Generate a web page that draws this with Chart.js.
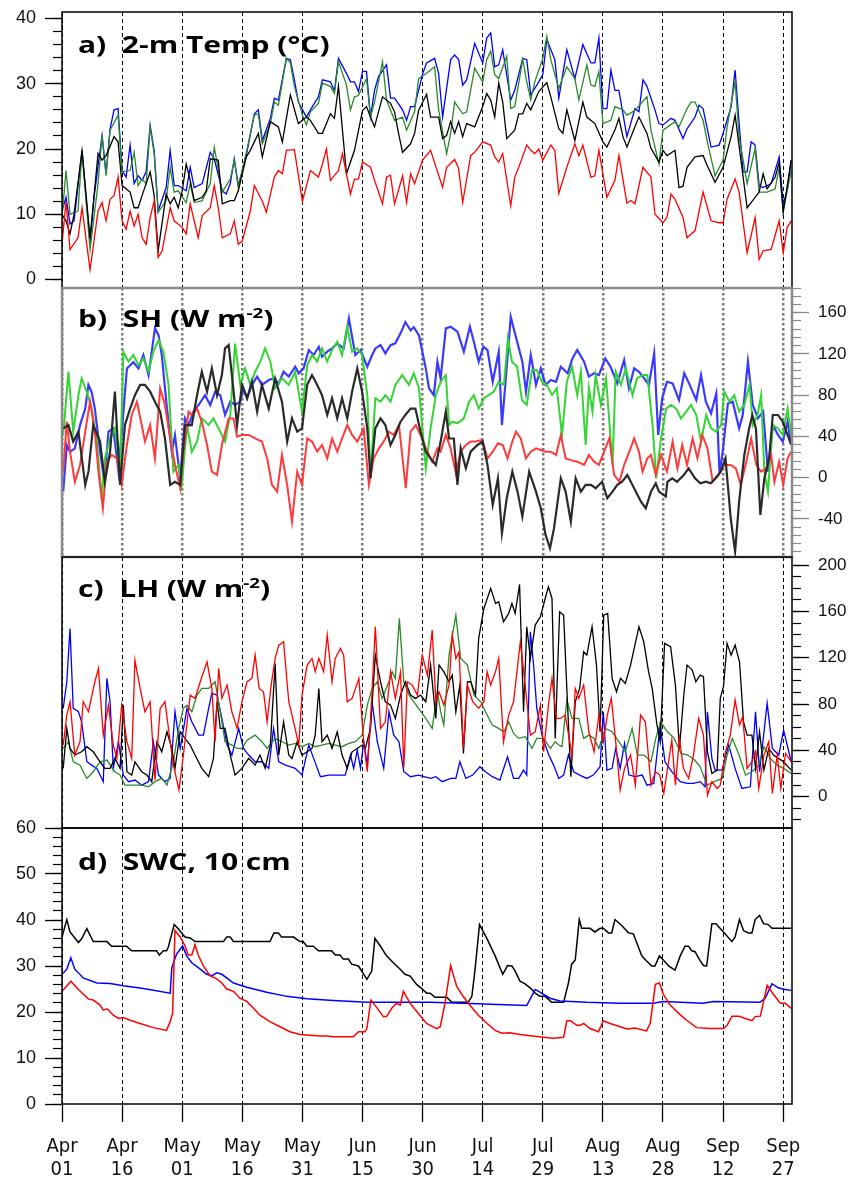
<!DOCTYPE html>
<html><head><meta charset="utf-8">
<script src="https://cdn.jsdelivr.net/npm/chart.js"></script>
<style>
html,body{margin:0;padding:0;background:#fff;}
#wrap{position:relative;width:860px;height:1178px;overflow:hidden;background:#fff;}
canvas{position:absolute;left:0;}
.ttl{position:absolute;left:78px;font-family:"Open Sans","Liberation Sans",sans-serif;font-weight:700;font-size:24px;line-height:24px;white-space:pre;transform:scaleX(1.25);transform-origin:0 0;color:#000;z-index:5;}
.ttl sup{font-size:15px;vertical-align:9px;line-height:0;}
</style></head>
<body><div id="wrap">
<canvas id="cA" width="860" height="300" style="top:0px"></canvas>
<canvas id="cB" width="860" height="290" style="top:280px"></canvas>
<canvas id="cC" width="860" height="290" style="top:549px"></canvas>
<canvas id="cD" width="860" height="368" style="top:810px"></canvas>
<div class="ttl" style="top:32px">a)  2-m Temp (°C)</div>
<div class="ttl" style="top:306px">b)  SH (W m<sup>-2</sup>)</div>
<div class="ttl" style="top:576px">c)  LH (W m<sup>-2</sup>)</div>
<div class="ttl" style="top:849px">d)  SWC, 10 cm</div>
</div>
<script>
// ---- x axis: day index since Apr 01, ticks every 15 days ----
const tickDays = [0,15,30,45,60,75,90,105,120,135,150,165,180];
const tickLabels = [['Apr','01'],['Apr','16'],['May','01'],['May','16'],['May','31'],['Jun','15'],['Jun','30'],['Jul','14'],['Jul','29'],['Aug','13'],['Aug','28'],['Sep','12'],['Sep','27']];

// ---- a) 2-m temperature (°C), [day, value] ----
const tempRed = [[0,5.4],[1,12],[2,4.6],[4,6.4],[5,11],[7,1.5],[9,10.5],[10,11.8],[11,9],[12,12.3],[13,12.9],[14,15.7],[15,9],[16,7.7],[17,10.5],[18,8.2],[19,10],[20,6.4],[21,5.4],[22,9.5],[23,12],[24,3.4],[25,4.4],[27,11],[28,9],[30,8],[31,7],[32,11.6],[34,6.4],[35,9.8],[37,11],[38,14.4],[39,11],[40,6.4],[42,7],[43,9],[44,5.4],[45,5.9],[47,10.5],[48,14.4],[50,12],[51,10.3],[53,15.7],[54,16.7],[55,16.2],[56,19.8],[58,19.9],[60,12],[62,16.7],[64,15.7],[65,17.7],[66,20],[67,15.2],[69,16.7],[70,19.3],[72,13.1],[73,15.4],[74,15.4],[75,18],[77,17.2],[78,15.2],[80,11.6],[81,15.7],[82,16],[83,11.6],[85,15.9],[86,11.8],[87,16.2],[88,14.7],[90,18.3],[92,19.8],[95,14.1],[96,17.2],[98,18.4],[99,17],[100,11.8],[102,19],[103,19.5],[105,21.1],[107,20.6],[108,18.8],[109,18],[110,19.3],[112,11.3],[113,15.7],[114,17.2],[116,20.6],[117,19.8],[118,19.3],[119,20],[120,18.3],[122,20.6],[123,19.8],[124,13.2],[126,17.2],[128,20.8],[129,19],[130,20.6],[132,15.7],[133,15.9],[134,19.8],[136,12.6],[138,15.2],[139,19],[141,11.7],[142,12.1],[143,11.6],[145,17.2],[147,15.7],[148,10],[150,8.7],[151,9.5],[152,13.1],[153,12.3],[155,9.5],[156,6.4],[158,7.5],[160,13.4],[162,9],[164,8.7],[165,8.7],[166,12.3],[168,15.4],[169,13.4],[171,4.1],[173,9.5],[174,3.1],[175,4.4],[177,4.6],[179,9],[180,4.1],[181,8],[182,9]];
const tempBlack = [[0,10],[1,9],[2,7],[3,10],[5,19.7],[7,6.4],[9,19.3],[10,18.3],[11,19],[13,21.9],[14,21.1],[15,14.4],[17,13.4],[18,11],[19,11],[20,12.9],[22,16.5],[23,12.9],[24,4.4],[26,13.1],[27,11.6],[28,12.6],[29,11],[30,13.6],[31,17.7],[32,15.2],[33,12.1],[35,12.6],[36,13.6],[37,18.5],[39,18.3],[40,11.6],[42,12.1],[43,12.1],[44,13.6],[46,18.8],[47,19.8],[49,22.4],[50,18.8],[52,24.2],[54,23.4],[55,21.1],[57,28.3],[59,23.9],[61,24.9],[62,24.4],[64,22.4],[65,22.4],[67,25.4],[68,24.7],[69,29.6],[71,16.2],[73,19.8],[75,25.9],[76,26.5],[77,24.9],[78,23.4],[80,28],[82,27],[83,25.7],[84,22.4],[85,19.5],[87,20.8],[88,22.4],[89,25.9],[91,28.4],[92,24.9],[94,24.9],[95,21.6],[96,22.1],[97,24.2],[98,22.4],[99,24.2],[100,21.9],[101,23.9],[103,23.4],[105,26.5],[106,28.5],[107,27.5],[108,24.9],[109,30.1],[110,27.2],[111,21.6],[113,22.9],[114,25.4],[115,25.4],[116,27],[117,26],[119,28.8],[121,30.2],[122,28],[124,23.1],[125,22.4],[126,26],[128,21.3],[130,27.2],[131,24.9],[133,23.9],[135,21.1],[136,20.3],[138,22.9],[139,24.7],[140,21.9],[141,20.3],[143,23.4],[144,24.9],[146,22.4],[147,20.1],[149,18],[150,19.8],[151,19],[153,19.8],[154,14.1],[155,14.3],[156,17.2],[158,18.8],[160,19],[161,17.5],[163,14.9],[165,17.2],[167,21.9],[168,25.2],[171,11],[172,11.8],[174,13.4],[175,16.2],[176,13.9],[178,15.7],[179,18],[180,10.3],[182,18.3]];
const tempGreen = [[0,9.5],[1,16.7],[2,10],[4,10.5],[5,19.8],[7,4.6],[9,14.7],[10,22.1],[11,15.9],[12,22.9],[14,25.2],[15,16.5],[17,16.7],[18,19.5],[19,14.4],[20,15.4],[21,14.7],[22,23.4],[23,19.3],[24,10.3],[26,12.1],[27,17.2],[28,13.4],[29,13.6],[31,11.8],[32,14.7],[33,11.8],[35,12.1],[37,14.7],[38,20.3],[40,13.4],[42,15.4],[43,18.3],[44,14.1],[46,19.5],[48,25.2],[49,25.4],[50,20.8],[52,23.9],[53,27.2],[54,26.7],[56,33.9],[57,33.2],[58,29.6],[60,25.2],[61,23.7],[62,25.7],[64,27],[65,30.1],[67,29.6],[68,28.5],[69,33.4],[71,29.8],[72,26],[73,28],[74,28.2],[76,30.8],[77,24.9],[78,27.2],[80,33.4],[81,27.5],[83,24.4],[85,24.9],[86,22.9],[88,25.7],[89,30.8],[91,31.6],[92,32.1],[93,32.6],[94,26],[96,19.3],[97,22.4],[98,27.2],[100,25.4],[101,25.7],[103,32.4],[105,30.3],[106,33.7],[107,35],[108,31.4],[109,30.8],[111,34.2],[112,26.2],[113,26.5],[115,33.7],[116,30.3],[117,27.5],[118,30.3],[120,33.9],[121,37.3],[122,33.7],[124,29.3],[126,32.6],[128,30.8],[129,27.5],[131,32.9],[132,29.8],[133,29.6],[134,31.9],[135,23.9],[137,24.4],[138,26.5],[140,26],[141,25.2],[143,25.9],[146,28],[147,22.9],[149,17.7],[150,22.9],[153,24.2],[154,23.4],[156,26.2],[157,27.2],[158,27.2],[160,24.4],[161,21.3],[163,15.9],[165,18.3],[166,23.4],[168,30.3],[169,21.9],[171,14.7],[173,20.1],[174,13.4],[176,13.4],[178,13.9],[179,17.2],[180,10.5],[182,16.7]];
const tempBlue = [[0,10.5],[1,12.6],[2,8.5],[3,9],[5,19.8],[7,5.4],[8,12.6],[10,22.1],[11,16.2],[12,23.1],[13,26],[14,26.2],[15,16.7],[16,15.7],[17,20.6],[18,14.7],[19,15.9],[20,15.2],[21,16.5],[22,23.6],[23,19.8],[24,10.5],[26,14.1],[27,19.8],[28,14.4],[29,14.4],[31,13.6],[32,17.2],[33,14.1],[35,14.7],[37,19.5],[38,18.5],[40,13.6],[41,13.1],[42,14.7],[43,18.5],[44,14.4],[46,19],[48,25.4],[49,26],[50,21.3],[52,24.7],[53,27.8],[54,27.5],[56,33.9],[57,33.7],[58,30.6],[59,27.2],[61,24.9],[62,26],[64,28],[65,30.6],[67,30.3],[68,28.9],[69,33.9],[71,31.6],[72,30.3],[73,30.3],[74,28.8],[75,31.9],[76,31.9],[77,24.9],[78,29],[79,31.1],[81,32.9],[82,27.8],[83,27.8],[85,26],[86,24.4],[87,26.5],[88,26.5],[90,31.5],[91,33.2],[93,33.9],[94,31.6],[95,24.9],[97,33.7],[98,34.4],[99,33.7],[100,29.8],[101,30.6],[103,36.2],[105,33.2],[106,37],[107,37.8],[108,32.6],[109,32.9],[110,35.2],[112,27.5],[113,29],[115,33.9],[116,33.7],[117,28.3],[119,30.3],[120,31.4],[121,36.8],[123,33.7],[124,27.8],[126,35.2],[128,30.8],[130,36],[132,33.2],[133,33.2],[134,37],[135,26.2],[136,26.2],[137,32.1],[138,29],[139,29],[141,21.9],[143,26.2],[144,25.7],[145,30.6],[146,29.6],[148,26],[149,23.9],[150,23.7],[152,24.7],[153,24.4],[155,21.6],[156,23.1],[158,24.9],[159,26.7],[160,26.2],[162,20.3],[164,20.6],[165,22.4],[167,26.5],[168,32.1],[169,23.9],[170,16.5],[171,16.5],[172,21.1],[173,20.6],[174,14.4],[175,14.1],[177,14.7],[179,18.8],[180,11.6],[181,13.6],[182,18.3]];

// ---- b) sensible heat (W m-2) ----
const shBlue = [[0.3,-13.6],[1.2,31.7],[2,25],[3.2,28.4],[4.5,51],[5.8,67],[6.6,90],[7.4,83],[8.2,67],[9.5,25],[10.6,-4],[11.6,44.6],[12.8,47.8],[14.1,5.8],[14.9,43],[16.2,106],[17.8,112],[19.1,106],[20.3,119],[21.6,99.5],[23.2,145],[24.1,138],[24.9,119],[26.2,67],[27.4,25],[28.2,41],[29.5,-0.6],[30.7,57.5],[31.6,51],[32.8,64],[34.1,70.5],[35.7,80],[37,70.5],[38.2,83],[39.5,80],[40.7,60.8],[42,73.7],[43.2,70.5],[44.5,73.7],[45.3,86.6],[46.2,77],[47.4,90],[48.7,98],[49.9,90],[51.6,94.7],[52.8,96.3],[54.1,91.5],[55.3,102.8],[56.6,98],[58.2,107.6],[59.1,101.2],[60.3,106],[61.6,123.8],[62.8,119],[64.1,127],[64.9,117.3],[66.2,122.2],[67.4,125.4],[68.7,130.3],[70.3,125.4],[71.6,154.5],[73.2,119],[74.5,123.8],[76.2,107.6],[77.4,119],[78.2,125.4],[79.5,128.6],[80.7,120.6],[82,128.6],[83.2,130.3],[84.5,140],[85.7,151],[87,143],[87.8,146],[89.1,138],[90.8,106],[91.6,86.6],[92.8,80],[93.7,112.5],[94.5,96.3],[95.8,144.8],[97,146.4],[98.7,141.6],[100.3,122.2],[101.8,146.4],[102.8,131.9],[104,112.5],[105.2,127],[106.2,123.8],[107.5,93],[109,122],[109.8,51],[110.7,93],[112,156],[113.6,131.9],[114.9,112.5],[115.8,83.4],[117,119],[118.3,90],[119.5,106],[120.7,90],[122,94.7],[123.3,93],[124.5,107.6],[126.2,101.2],[127.4,115.7],[128.6,123.8],[130.3,112.5],[131.5,98],[132.8,101.2],[134,99.5],[135.6,115.7],[136.9,107.6],[138.6,91.5],[140.3,114],[141.5,86.6],[142.8,106],[144,102.8],[145.3,96.3],[146.5,90],[147.8,120.6],[148.8,41.4],[149.8,77],[151,93],[152.4,91.5],[154,75.3],[155.3,101.2],[156.5,91.5],[158.3,75.3],[159.5,99.5],[160.7,73.7],[162,62.4],[163.3,81.8],[164.1,4.2],[164.9,25.2],[166.2,72],[167.4,73.7],[169,47.8],[169.9,60.8],[171.2,112.5],[172.4,70.5],[173.7,57.5],[175,64],[176.2,5.8],[177.4,51],[178.7,41.4],[179.9,34.9],[181.1,54.3],[182,31.7]];
const shGreen = [[0.3,41],[1.6,102.8],[2.8,44.6],[4.1,80],[4.9,96.3],[6.2,83],[7.4,67],[8.7,35],[9.9,-20],[10.7,18.7],[12,38],[13.2,47.8],[14.5,5.8],[15.3,122.2],[16.6,112.5],[17.8,119],[19.1,109],[20.3,115.7],[21.6,102.8],[22.8,122.2],[24.1,133.5],[25.3,122.2],[26.6,90],[27.8,5.8],[29.1,12.3],[29.9,-7],[31.2,51],[32.4,25],[33.7,35],[34.9,57.5],[36.6,51],[37.8,57.5],[39.5,44.6],[40.7,35],[42,60.8],[43.2,130],[44.5,90],[45.7,106],[47,90],[48.2,102.8],[49.5,112.5],[50.7,125.4],[52,112.5],[53.2,86.6],[54.9,96.3],[56.6,90],[58.2,102.8],[59.9,64],[61.2,109],[62.4,119],[63.7,112.5],[64.9,125.4],[66.2,112.5],[67.4,123.8],[68.7,131.9],[69.9,119],[71.2,146.4],[72.4,122.2],[73.7,125.4],[74.9,119],[76.2,80],[77,-0.6],[78.2,77],[79.5,73.7],[80.7,80],[82,73.7],[83.2,90],[84.9,99.5],[86.6,90],[87.8,101.2],[89.1,86.6],[90.8,9],[92,47.8],[93.3,80],[94.5,93],[95.8,99.5],[96.6,51],[97.4,54.3],[98.7,52.7],[100.3,57.5],[101.6,73.7],[102.8,80],[104,67],[105.3,77],[106.5,80],[107.8,83.4],[109,93],[110.3,90],[111.3,135],[112.3,112.5],[113.6,107.6],[114.8,75.3],[116,70.5],[117.3,104.4],[118.5,104.4],[119.8,93],[121,90],[122.3,80],[123.5,86.6],[124.8,41.4],[126,93],[127.3,107.6],[128.6,80],[129.5,102.8],[130.7,31.7],[131.5,86.6],[132.4,64],[133.2,99.5],[134.5,70.5],[135.8,96.3],[137.4,12.3],[138.2,102.8],[139.5,90],[140.7,106],[142.4,80],[143.5,96.3],[144.9,99.5],[146.1,99.5],[147.4,51],[148.3,-0.6],[149.5,38],[150.8,67],[152,70.5],[153.3,67],[154.5,57.5],[155.8,64],[157,70.5],[158.3,60.8],[159.5,35],[160.8,60.8],[162,47.8],[163.3,44.6],[164.5,51],[165.3,83.4],[166.6,73.7],[167.8,80],[169,64],[170.3,70.5],[171.6,90],[172.4,51],[173.6,60.8],[174.5,80],[175.3,5.8],[176.2,-13.6],[177.4,51],[178.7,47.8],[179.9,41.4],[181.1,67],[182,41.4]];
const shBlack = [[0.3,47.8],[1.6,51],[2.8,35],[4.1,44.6],[5.8,-7],[6.6,5.8],[7.8,51],[9.5,35],[10.7,-4],[12,25],[13.2,83.4],[14.5,-7],[15.7,51],[17,67],[18.2,80],[19.5,90],[20.7,90],[22,83.4],[23.2,73.7],[24.5,64],[25.7,38],[27,-7],[28.2,-4],[29.5,-7],[30.7,51],[32.4,51],[33.7,80],[34.9,102.8],[36.2,83.4],[37.4,106],[38.7,80],[39.9,99.5],[40.7,125.4],[41.6,128.6],[42.4,99.5],[43.7,51],[44.9,90],[46.2,77],[47.4,93],[48.7,64],[49.9,90],[51.6,67],[53.2,96.3],[54.9,73.7],[56.2,35],[57.4,57.5],[58.7,44.6],[59.9,47.8],[61.2,90],[62.4,99.5],[63.7,90],[64.9,80],[66.2,60.8],[67.4,77],[68.7,57.5],[69.9,77],[71.2,57.5],[72.4,83.4],[73.7,106],[74.9,83.4],[76.2,47.8],[77,-0.6],[78.2,47.8],[79.5,57.5],[80.7,51],[82,31.7],[83.2,41.4],[84.5,54.3],[85.7,60.8],[87,67],[88.2,67],[89.5,44.6],[90.8,25.2],[92,18.7],[93.3,12.3],[94.5,35],[95.8,64],[96.6,38],[97.8,38],[98.7,-7],[99.5,28.4],[100.8,9],[102,25.2],[103.7,31.7],[105,35],[106.2,12.3],[107.5,-26.5],[108.8,-0.6],[109.8,-54],[111,-20],[112.4,5.8],[113.7,-13.6],[114.9,-37.8],[116.6,5.8],[118.3,-13.6],[119.5,-29.7],[120.7,-55.6],[121.8,-68.5],[122.8,-49],[124.5,-0.6],[125.7,-13.6],[127,-42.7],[128.2,-0.6],[129.5,-13.6],[130.7,-7],[132,-7],[133.2,-10.3],[134.8,-4],[136.1,-20],[137.4,-13.6],[138.6,-7],[139.8,-4],[141.1,2.6],[142.8,-10.3],[144.5,-23.3],[145.7,-29.7],[147,-13.6],[148.2,-5.5],[149,-13.6],[150.7,-18.4],[151.1,-4],[152.3,-0.6],[153.5,-4],[155.2,2.6],[156.4,9],[158,-0.6],[159.3,-5.5],[160.7,-4],[161.9,-5.5],[163.1,-0.6],[164.4,5.8],[165.6,18.7],[166.9,-39.4],[168,-71.8],[169,-23.3],[170.3,22],[171.5,47.8],[172.3,60.8],[173.2,47.8],[174.3,-36.2],[175.3,-0.6],[176.5,18.7],[177.4,60.8],[178.7,60.8],[179.9,54.3],[181.1,41.4],[182,31.7]];
const shRed = [[0.3,5.8],[1.2,54.3],[2,25.2],[3.2,-4],[4.5,12.3],[5.8,44.6],[7,73.7],[8.2,44.6],[9.1,5.8],[10.2,-29.7],[11.2,15.5],[12.4,22],[13.7,18.7],[14.9,-7],[16.2,31.7],[17.4,60.8],[18.7,73.7],[19.9,51],[20.7,35],[22,51],[23.2,18.7],[24.5,86.6],[25.7,70.5],[27,38],[28.2,12.3],[29.5,-10.3],[30.3,25.2],[31.6,64],[32.4,60.8],[33.7,67],[34.9,54.3],[36.2,31.7],[37.4,5.8],[38.7,2.6],[39.9,31.7],[41.6,57.5],[42.8,57.5],[43.7,39.8],[44.9,41.4],[46.6,41.4],[48.2,38],[49.9,35],[51.2,18.7],[52.4,-7],[53.7,-13.6],[54.9,22],[56.2,-7],[57.4,-42.7],[58.7,5.8],[59.9,-7],[61.2,38],[62.4,35],[63.7,25.2],[64.9,31.7],[66.2,18.7],[67.4,38],[68.7,25.2],[69.9,38],[71.2,51],[72.4,41.4],[73.7,35],[75.3,47.8],[76.6,-7],[77.8,18.7],[79.1,28.4],[80.3,35],[81.6,44.6],[82.8,41.4],[84.1,51],[85.8,-10.3],[87,44.6],[88.3,51],[89.5,41.4],[90.8,28.4],[92.4,15.5],[93.7,28.4],[94.5,25.2],[95.8,41.4],[97,28.4],[98.3,4.2],[99.5,25.2],[100.8,31.7],[102,35],[103.3,35],[104.9,36.5],[106.2,18.7],[107.5,25.2],[108.8,33.3],[110,31.7],[111.2,18.7],[112.4,35],[113.3,44.6],[114.5,38],[115.8,18.7],[117,25.2],[118.3,28.4],[119.5,26.8],[120.7,25.2],[122,25.2],[123.3,22],[124.5,41.4],[125.7,18.7],[127,17],[128.6,15.5],[130.3,12.3],[131.5,22],[132.8,15.5],[134,12.3],[135.3,25.2],[136.6,38],[137.8,2.6],[139.1,-4],[140.3,12.3],[141.6,25.2],[142.8,38],[144,25.2],[144.9,5.8],[146.1,18.7],[147,22],[148.2,2.6],[149.5,22],[151,5.8],[152.4,35],[153.6,9],[154.8,31.7],[156,12.3],[157.4,38],[158.6,18.7],[159.8,41.4],[161.1,28.4],[162.4,-4],[163.9,2.6],[165.3,12.3],[166.9,12.3],[168.2,9],[169.4,-7],[170.8,15.5],[172,38],[173.3,12.3],[174.5,5.8],[175.8,9],[177,22],[177.8,-4],[179,15.5],[180,-7],[181.1,18.7],[182,25.2]];

// ---- c) latent heat (W m-2) ----
const lhRed = [[0.3,44.6],[1.2,70.5],[2,82],[3.2,36],[4.5,47.5],[5.3,82],[6.6,73.4],[8.2,99.3],[9.1,110.8],[10.3,53.2],[11.6,79.1],[12.8,44.6],[13.7,33.1],[14.9,79.1],[16.2,47.5],[17.4,33.1],[18.2,118],[19.5,93.5],[20.7,73.4],[22,82],[23.2,14.4],[24.5,76.3],[25.7,82],[27,47.5],[27.8,27.3],[29.2,5.8],[30.3,36],[32,87.8],[33.2,84.9],[34.5,99.3],[36.2,116.5],[37.4,93.5],[38.2,47.5],[39.1,110.8],[39.9,84.9],[41.2,96.4],[42.4,73.4],[43.7,59],[44.9,82],[46.2,99.3],[47.4,102.2],[48.2,122.3],[49.2,93.5],[50.3,90.6],[51.2,64.7],[52.2,96.4],[53.2,119.4],[54.1,130.9],[55.3,133.8],[56.6,82],[57.8,64.7],[59.1,44.6],[59.9,87.8],[61.2,113.7],[62.4,119.4],[63.2,108],[64.1,119.4],[65.3,108],[66.2,139.6],[67.4,99.3],[68.2,119.4],[69.5,128],[70.3,122.3],[71.2,82],[72.4,84.9],[74.1,102.2],[75.3,47.5],[76.2,21.6],[77,64.7],[78.2,146.8],[79.5,59],[80.7,64.7],[82,108],[83.2,84.9],[84.5,108],[85.3,24.5],[86.2,99.3],[87.4,96.4],[88.7,87.8],[89.9,122.3],[91.2,105],[92.4,143.9],[93.3,82],[94.1,90.6],[95.3,79.1],[96.6,96.4],[97.4,139.6],[98.3,119.4],[99.1,125.2],[100.2,41.7],[101.2,96.4],[102.5,82],[104,76.3],[105.3,82],[106.1,108],[107,96.4],[108.2,108],[109,119.4],[110.2,47.5],[111.5,70.5],[112.7,82],[114.4,133.8],[115.6,96.4],[116.9,53.2],[118.1,56.1],[119.4,79.1],[120.2,38.8],[121.5,82],[122.3,102.2],[123.4,67.6],[124.4,67.6],[125.6,70.5],[127.3,36],[128.1,93.5],[129,84.9],[130.2,96.4],[131.5,56.1],[132.8,38.8],[134,70.5],[135.1,47.5],[136.1,70.5],[137.1,84.9],[138.2,47.5],[139.3,5.8],[140.4,24.5],[141.9,36],[143.1,10],[144.4,70.5],[145.6,64.7],[147,10],[148.1,21.6],[149.2,18.7],[150.2,2.9],[151.4,30.2],[152.2,48.9],[153.1,10],[154.1,50.4],[155.1,24.5],[156.4,15.8],[157.6,36],[158.9,67.6],[160.1,53.2],[161.1,1.4],[162.2,13],[163.5,7.2],[164.3,10],[165.6,38.8],[166.8,53.2],[168,83.5],[169.1,61.9],[169.9,69],[171,24.5],[172.2,30.2],[173.1,38.8],[173.9,7.2],[175.2,36],[176.4,47.5],[177.3,2.9],[178.5,36],[179.4,7.2],[180.6,37.4],[182,30.2]];
const lhBlack = [[0.3,24.5],[1.2,59],[2,41.7],[3.2,36],[4.9,38.8],[6.2,43.2],[7.8,38.8],[9.5,30.2],[10.7,24.5],[12,24.5],[13.2,33.1],[14.5,24.5],[15.3,79.1],[16.2,21.6],[17.4,18.7],[18.2,30.2],[19.9,21.6],[21.2,18.7],[22.4,13],[23.7,47.5],[24.9,38.8],[26.2,56.1],[27.4,41.7],[28.2,24.5],[29.5,56.1],[30.7,50.4],[32,44.6],[33.2,36],[34.9,24.5],[36.6,17.3],[37.8,33.1],[38.7,82],[39.5,59],[40.7,59],[42,36],[43.2,18.7],[44.9,24.5],[46.6,33.1],[48.2,27.3],[49.4,36],[50.7,24.5],[52,44.6],[53.2,115.1],[54.1,36],[55.3,64.7],[56.6,36],[57.4,33.1],[58.7,47.5],[59.9,36],[61.2,38.8],[62.4,41.7],[63.2,53.2],[64.1,93.5],[64.9,47.5],[66.2,53.2],[67.4,41.7],[68.7,56.1],[69.9,36],[71.2,24.5],[72.4,38.8],[73.7,41.7],[74.9,44.6],[75.7,41.7],[77,59],[78.2,122.3],[79.5,99.3],[80.7,82],[82,79.1],[83.2,67.6],[84.5,87.8],[85.7,99.3],[87,87.8],[88.2,84.9],[89.5,87.8],[90.8,82],[92,113.7],[93.3,67.6],[94.1,113.7],[95.3,108],[96.6,99.3],[97.4,105],[98.3,73.4],[99.3,96.4],[100.2,37.4],[101.2,99.3],[102,99.3],[103.2,87.8],[104,136.7],[105.3,162.6],[107,179.9],[108.2,166.9],[109,168.3],[110.2,151.1],[111.5,158.3],[112.3,166.9],[113.1,158.3],[114.2,183.3],[115.2,73.4],[116,146.8],[116.9,119.4],[118.1,148.2],[119.4,155.4],[120.6,171.2],[121.4,181.3],[122.3,171.2],[123.1,50.4],[124.2,159.7],[125.2,156.8],[126,93.5],[127,17.3],[128.1,82],[129.2,93.5],[130.2,125.2],[131,122.3],[132.3,146.8],[133.4,113.7],[134.3,56.1],[135.2,156.8],[136.2,158.3],[137.3,102.2],[138.4,90.6],[139.4,102.2],[140.6,97.8],[141.9,113.7],[144,146.8],[145.2,133.8],[146.4,108],[147.3,93.5],[148.5,61.9],[149.3,47.5],[150.4,132.4],[151.9,129.5],[153.1,96.4],[154.1,41.7],[155.2,87.8],[156,113.7],[157.3,109.4],[158.2,99.3],[159.3,105],[160.1,103.6],[161.1,38.8],[162.2,20.1],[163.5,23],[164.3,84.9],[165.1,95],[166,132.4],[167,122.3],[168,130.9],[169.1,116.5],[170.1,64.7],[171,53.2],[172.2,53.2],[173.1,24.5],[174.1,56.1],[175.2,23],[176.4,41.7],[177.6,36],[178.8,33.1],[180.1,30.2],[182,23]];
const lhGreen = [[0.3,41.7],[1.6,47.5],[2.8,30.2],[4.5,27.3],[6.2,15.8],[7.8,21.6],[9.5,30.2],[11.2,31.7],[13.2,21.6],[14.5,18.7],[15.7,10],[17.4,10],[19.9,10],[21.6,8.6],[23.2,13],[24.9,15.8],[26.2,10],[27.8,30.2],[29.1,59],[30.3,76.3],[31.2,79.1],[32.4,73.4],[33.7,87.8],[34.9,93.5],[36.6,93.5],[38.2,99.3],[39.5,73.4],[40.7,47.5],[42.4,44.6],[43.7,41.7],[44.9,41.7],[46.2,48.9],[48.2,53.2],[49.9,47.5],[51.2,41.7],[53.2,50.4],[54.9,47.5],[56.6,44.6],[58.2,46],[59.9,43.2],[61.6,46],[63.2,43.2],[64.9,44.6],[66.6,46],[68.2,44.6],[69.9,43.2],[71.6,46],[73.2,47.5],[74.9,53.2],[76.2,79.1],[77.4,93.5],[78.7,99.3],[79.9,84.9],[81.6,99.3],[82.4,108],[83.2,102.2],[84.2,154],[85.3,99.3],[86.6,87.8],[87.8,82],[89,76.3],[90.8,67.6],[92.4,59],[93.7,90.6],[94.5,73.4],[95.3,61.9],[96.6,122.3],[98.3,156.8],[99.5,119.4],[101.2,113.7],[102.8,87.8],[104.5,82],[105.7,73.4],[107.4,61.9],[109,59],[110.3,56.1],[111.5,64.7],[112.7,54.7],[114,50.4],[115.6,51.8],[117.3,41.7],[118.5,50.4],[120.2,50.4],[121.9,41.7],[123.1,47.5],[124,44.6],[124.8,43.2],[126,83.5],[127.3,67.6],[129,67.6],[130.2,50.4],[131.5,53.2],[132.8,50.4],[134,41.7],[135.6,59],[137.3,56.1],[139,47.5],[140.6,38.8],[142.3,59],[143.6,36],[145.3,36],[147,30.2],[148.2,50.4],[149.4,64.7],[151.1,56.1],[152.8,50.4],[154.5,37.4],[156.2,36],[157.9,31.7],[159.3,25.9],[161,10],[162.8,13],[164.8,15.8],[166,36],[167.3,50.4],[169,36],[170.6,18.7],[172.2,21.6],[173.9,27.3],[175.2,43.2],[176.8,33.1],[178.5,27.3],[180.1,24.5],[182,20.1]];
const lhBlue = [[0.3,76.3],[1.2,99.3],[2,145.3],[2.8,76.3],[4.1,73.4],[4.9,64.7],[6.2,30.2],[7.4,27.3],[8.7,24.5],[10.3,13],[11.2,102.2],[12,82],[12.8,24.5],[14.1,47.5],[15.3,18.7],[16.6,13],[18.2,14.4],[19.9,10],[21.6,13],[22.8,47.5],[24.1,18.7],[25.7,13],[27,15.8],[28.2,73.4],[29.5,41.7],[31.2,76.3],[32.4,64.7],[34.1,53.2],[35.3,53.2],[36.6,76.3],[37.4,89.2],[38.7,87.8],[39.9,67.6],[41.2,44.6],[42.4,36],[44.1,59],[45.3,41.7],[46.6,36],[48.2,30.2],[49.9,30.2],[51.6,24.5],[52.8,59],[54.1,30.2],[55.8,27.3],[58.2,24.5],[59.9,18.7],[61.6,44.6],[62.8,33.1],[64.5,17.3],[66.6,18.7],[69.1,18.7],[70.7,18.7],[72,36],[72.8,24.5],[73.7,40.3],[74.5,24.5],[75.3,47.5],[76.2,27.3],[77.4,82],[78.7,47.5],[80.3,24.5],[81.6,73.4],[82.8,53.2],[84.1,47.5],[85.3,21.6],[87,17.3],[89,18.7],[92,15.8],[93.3,17.3],[94.9,13],[97,15.8],[98.3,15.8],[99.3,30.2],[100.8,15.8],[102.5,18.7],[104.3,25.9],[105.7,21.6],[107.4,17.3],[109.3,14.4],[111.2,34.5],[112.7,15.8],[114,15.8],[115.2,23],[116,18.7],[116.9,142.4],[117.7,113.7],[118.5,76.3],[119.8,53.2],[121.5,36],[122.7,27.3],[124,15.8],[125.2,18.7],[126.4,36],[127.7,21.6],[129.2,18.7],[131,15.8],[132.6,18.7],[134.3,25.9],[135.1,73.4],[136,23],[137.3,24.5],[138.2,41.7],[139.3,24.5],[140.4,46],[141.5,18.7],[143.1,17.3],[144.8,18.7],[146,10],[147.7,11.5],[149.3,61.9],[150.5,30.2],[152.2,21.6],[154.3,13],[156,11.5],[157.6,11.5],[159.3,13],[160.5,8.6],[161.1,73.4],[162.2,33.1],[163,23],[164.7,23],[166.4,44.6],[168,24.5],[169.7,7.2],[171.8,8.6],[173.1,73.4],[174.1,21.6],[176,80.6],[177.3,41.7],[178.9,36],[180.1,57.6],[182,30.2]];

// ---- d) soil water content, 10 cm ----
const swcBlack = [[0,36.3],[1.2,40.1],[2,37.4],[4.1,35.1],[4.9,35.9],[6.2,38.1],[7.8,35.3],[11.2,35.3],[12.4,34.3],[16.1,34.3],[17.4,33.3],[23.6,33.3],[24.3,32.4],[25.3,33.3],[26.1,33.3],[26.5,34],[28,39],[29,38.1],[30.7,36.3],[32,36.1],[33.2,35.3],[40.3,35.3],[41.1,36.3],[42,36.3],[42.8,35.3],[51.9,35.3],[52.9,37.2],[54,37.2],[54.8,36.3],[57.8,36.3],[59.4,35.3],[60.2,35.3],[61.1,34.3],[62.7,34.3],[64,33.3],[67.3,33.3],[68.2,32.4],[69.4,32.4],[70.2,31.5],[71.5,31.5],[72.3,30.4],[74,30],[76.1,27.1],[77.3,28.9],[78.1,36],[79.4,34.4],[81,32.2],[82.7,30.7],[84.4,29.3],[85.6,28.2],[86.9,27.8],[88.5,26],[89.8,25.1],[91,24.1],[91.9,24.1],[93.1,23.2],[96,23.2],[97.3,22.1],[101.4,22.1],[102.3,23.4],[103.1,29.3],[104.2,39],[106.1,35.9],[108.1,32.2],[110,28.2],[111.2,30.1],[112.3,30],[113.1,28.9],[114.3,26.7],[115.6,26.1],[116.9,25.2],[118.1,24.1],[119.3,23.4],[120.6,23.4],[122.2,22.1],[125.2,22.1],[126.4,26.3],[127.2,30.4],[128.1,31.3],[129.1,40.1],[129.7,38.2],[131.8,38.2],[133,37.4],[134.3,38.2],[135.1,38.2],[136.4,37.2],[137.2,37.2],[138,40.1],[139.7,38.8],[141.4,37.2],[142.6,37],[144.7,32.2],[145.9,31.1],[147.2,30],[148,30],[149.1,32.2],[150.1,31.3],[151.4,30],[153,29.1],[154.3,32.2],[155.5,34.3],[156.4,34.3],[157.2,33.3],[158,33.1],[159.3,31.1],[160.1,30.1],[160.9,30],[162.2,39.2],[163.2,39.2],[165.1,37.4],[167.2,35.3],[168,36.3],[169.1,40.1],[170.1,37.7],[171.3,37.2],[172.2,37.2],[173,40.1],[174.1,41],[175.1,39.2],[176.3,39],[177.2,38.2],[182,38.2]];
const swcBlue = [[0,28.2],[1.2,29.3],[2.2,31.8],[3.2,29.3],[5.3,27.4],[8.7,26.3],[12,26.2],[15.3,25.7],[20.3,25.1],[27,24.1],[27.4,29.6],[28.6,32.6],[30.1,34.4],[31.1,32.2],[32.4,30.7],[34.5,29.3],[36.1,28.2],[37.4,27.9],[38.6,28.5],[39.9,28.2],[42.8,26.3],[46.1,25.4],[51.1,24.3],[56.1,23.4],[61.1,22.9],[67.7,22.5],[76.1,22.1],[91.9,22.1],[100,21.9],[116,21.4],[118.1,24.9],[119.3,24.3],[121.8,23],[124.3,22.4],[131,22.1],[139.3,21.9],[147.6,21.9],[150.1,22.3],[160,21.9],[162.6,22.3],[174.2,22.1],[175.5,23],[177.2,26.1],[178.9,25.2],[180.5,24.9],[182,24.7]];
const swcRed = [[0,24.5],[2.2,26.7],[4.1,24.9],[6.6,22.8],[7.8,22.6],[9.5,21.5],[10.3,20.4],[11.3,20.7],[12.8,19.3],[14.1,18.6],[15.3,18.8],[17,18.2],[19.5,17.5],[22.8,16.6],[26.1,16],[27,17.9],[27.6,19.7],[28.2,37.7],[29.5,36.3],[30.7,34.4],[31.5,32.4],[32.4,32.4],[33.2,34.6],[34,32.4],[35.3,30],[36.9,27.9],[38.6,27.2],[39.9,26.3],[41.1,25],[42.8,24.5],[44.4,23],[46.1,22.3],[47.8,20.8],[49.4,19.3],[51.9,17.9],[54.4,16.8],[56.9,15.7],[59.4,15.1],[64.4,14.8],[66.1,14.8],[67.7,14.6],[72.7,14.6],[74,15.7],[75.6,15.7],[76.1,16.4],[77.1,22.6],[78.1,21.5],[80.2,19],[81,19],[82.3,20.8],[83.5,21.9],[84.4,21.5],[85.2,24.5],[86.9,21.9],[89.4,19.2],[91,17.5],[93.5,16.4],[94.4,16.8],[95.6,21.9],[97,30.1],[98.5,25.6],[99.8,23.8],[101.4,21.9],[103.9,19.3],[106.1,17.5],[108.1,16],[109.8,15.4],[111.8,15.5],[114.3,15.1],[118.5,14.7],[122.6,14.3],[125.2,14.5],[126,18.1],[126.9,18.1],[128.5,17.1],[129.3,17.1],[130.2,17.5],[131.8,16.4],[133.9,15.7],[135.1,18.1],[136.8,17.5],[139.3,16.8],[141,16.3],[143,16.5],[145.9,15.9],[146.8,17.5],[148.1,26],[149.1,26.3],[150.1,23.8],[151.8,21.5],[153.9,19.7],[155.9,18.2],[158.4,16.6],[161.8,16.4],[165.1,16.4],[166,17.1],[167.2,19.1],[169,19.1],[170.5,18.6],[172.2,18.1],[173,19],[174.3,19.1],[176,25.8],[177.6,23.8],[179.3,21.9],[180.5,21.9],[182,20.8]];

// ---------------- rendering ----------------
const frame = {
  id: 'frame',
  afterDraw(chart, args, o) {
    const a = chart.chartArea, c = chart.ctx;
    c.save(); c.strokeStyle = o.color; c.lineWidth = o.width;
    c.strokeRect(a.left, a.top, a.right - a.left, a.bottom - a.top);
    c.restore();
  }
};

function noPad(s) { s.paddingTop = 0; s.paddingBottom = 0; s.paddingLeft = 0; s.paddingRight = 0; }

function makeChart(id, p) {
  const axisW = p.side === 'left' ? 62 : 68;
  const ds = p.series.map(s => ({data: s.data, borderColor: s.color, borderWidth: s.width, pointRadius: 0, tension: 0, fill: false}));
  const tickFont = {family: '"Liberation Sans", Arial, sans-serif', size: p.side === 'left' ? 18 : 17};
  return new Chart(document.getElementById(id), {
    type: 'line',
    data: {datasets: ds},
    plugins: [frame],
    options: {
      responsive: false, animation: false, devicePixelRatio: 1, events: [],
      layout: {autoPadding: false, padding: p.pad},
      plugins: {legend: {display: false}, tooltip: {enabled: false}, frame: {color: p.frameColor, width: p.frameWidth}},
      scales: {
        x: {
          type: 'linear', min: 0, max: 182.2,
          afterBuildTicks: s => { s.ticks = tickDays.map(v => ({value: v})); },
          afterFit: s => { s.height = p.xHeight; noPad(s); },
          border: {display: false, dash: p.gridDash},
          grid: {color: p.gridColor, lineWidth: p.gridWidth, drawTicks: p.showX, tickLength: 18, tickColor: '#000', tickWidth: 1.3, tickBorderDash: []},
          ticks: {display: p.showX, autoSkip: false, maxRotation: 0, padding: 13, color: '#111',
            font: {family: '"Liberation Sans Narrow", "DejaVu Sans Condensed", Arial, sans-serif', size: 20, lineHeight: 1.15},
            callback: (v, i) => tickLabels[i]}
        },
        y: {
          type: 'linear', position: p.side, min: p.min, max: p.max, weight: 1,
          afterFit: s => { s.width = axisW; noPad(s); },
          border: {display: false},
          grid: {drawOnChartArea: false, drawTicks: true, tickLength: 17, tickColor: p.frameColor, tickWidth: 1.3},
          ticks: {stepSize: p.major, includeBounds: false, autoSkip: false, padding: 9, color: '#111', font: tickFont}
        },
        yMinor: {
          type: 'linear', position: p.side, min: p.min, max: p.max, weight: 0,
          afterFit: s => { s.width = 0; noPad(s); },
          border: {display: false},
          grid: {drawOnChartArea: false, drawTicks: true, tickLength: 9, tickColor: p.frameColor, tickWidth: 1.2},
          ticks: {display: false, stepSize: p.minor, includeBounds: false, autoSkip: false}
        }
      }
    }
  });
}

const dashBlack = {gridDash: [4, 3], gridColor: '#000', gridWidth: 1};

makeChart('cA', Object.assign({
  series: [
    {data: tempRed, color: '#ff0000', width: 1.3},
    {data: tempBlack, color: '#000000', width: 1.3},
    {data: tempGreen, color: '#2a8a2a', width: 1.3},
    {data: tempBlue, color: '#0000ff', width: 1.3}
  ],
  side: 'left', min: -1.3, max: 41, major: 10, minor: 2,
  pad: {top: 12, bottom: 12, left: 0, right: 68}, xHeight: 0, showX: false,
  frameColor: '#000', frameWidth: 1.5
}, dashBlack));

makeChart('cB', {
  series: [
    {data: shBlack, color: '#2a2a2a', width: 2.2},
    {data: shRed, color: '#ff3a3a', width: 2},
    {data: shGreen, color: '#33d433', width: 2},
    {data: shBlue, color: '#3a3aff', width: 2.2}
  ],
  side: 'right', min: -77, max: 184, major: 40, minor: 8,
  pad: {top: 8, bottom: 13, left: 62, right: 0}, xHeight: 0, showX: false,
  frameColor: '#8a8a8a', frameWidth: 2.5,
  gridDash: [2.5, 2.5], gridColor: '#7a7a7a', gridWidth: 2.5
});

makeChart('cC', Object.assign({
  series: [
    {data: lhRed, color: '#ff0000', width: 1.3},
    {data: lhBlack, color: '#000000', width: 1.3},
    {data: lhGreen, color: '#2a8a2a', width: 1.3},
    {data: lhBlue, color: '#0000ff', width: 1.3}
  ],
  side: 'right', min: -27, max: 207, major: 40, minor: 10,
  pad: {top: 8, bottom: 11, left: 62, right: 0}, xHeight: 0, showX: false,
  frameColor: '#000', frameWidth: 1.5
}, dashBlack));

makeChart('cD', Object.assign({
  series: [
    {data: swcRed, color: '#ff0000', width: 1.5},
    {data: swcBlue, color: '#0000ff', width: 1.5},
    {data: swcBlack, color: '#000000', width: 1.5}
  ],
  side: 'left', min: 0, max: 60, major: 10, minor: 2,
  pad: {top: 18, bottom: 0, left: 0, right: 68}, xHeight: 74, showX: true,
  frameColor: '#000', frameWidth: 1.5
}, dashBlack));
</script>
</body></html>
